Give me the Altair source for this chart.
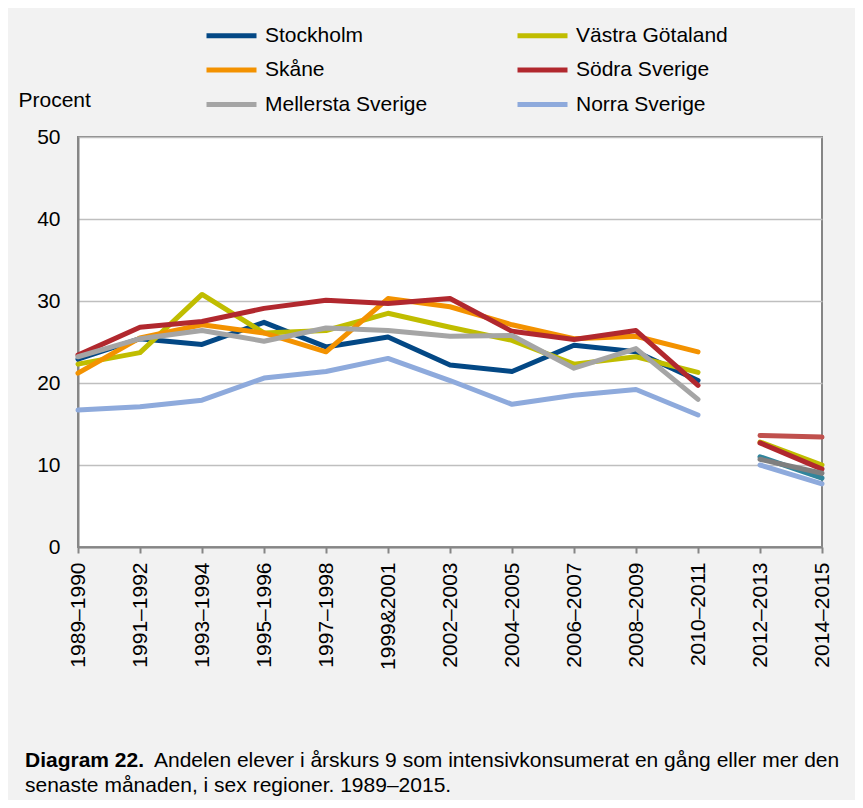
import altair as alt
import pandas as pd

categories = ["1989–1990", "1991–1992", "1993–1994", "1995–1996", "1997–1998",
              "1999&2001", "2002–2003", "2004–2005", "2006–2007", "2008–2009",
              "2010–2011", "2012–2013", "2014–2015"]
regions = ["Stockholm", "Västra Götaland", "Skåne", "Södra Sverige",
           "Mellersta Sverige", "Norra Sverige"]

stockholm = [22.9, 25.4, 24.7, 27.4, 24.4, 25.6, 22.2, 21.4, 24.6, 23.8, 20.3, 11.0, 8.4]
vastra_gotaland = [22.3, 23.7, 30.8, 26.1, 26.4, 28.5, 26.8, 25.2, 22.3, 23.2, 21.3, 12.8, 10.0]
skane = [21.2, 25.5, 27.1, 26.1, 23.8, 30.3, 29.3, 27.1, 25.4, 25.7, 23.8, 13.6, 13.4]
sodra_sverige = [23.4, 26.8, 27.5, 29.1, 30.1, 29.7, 30.3, 26.3, 25.3, 26.4, 19.7, 12.7, 9.5]
mellersta_sverige = [23.2, 25.4, 26.4, 25.1, 26.7, 26.4, 25.7, 25.8, 21.8, 24.2, 18.0, 10.7, 9.0]
norra_sverige = [16.7, 17.1, 17.9, 20.6, 21.4, 23.0, 20.3, 17.4, 18.5, 19.2, 16.1, 10.0, 7.7]

series = [stockholm, vastra_gotaland, skane, sodra_sverige, mellersta_sverige, norra_sverige]
colors_main = ["#034885", "#c0bd00", "#f39200", "#b1282e", "#a5a5a5", "#8eaadc"]
colors_late = ["#31859c", "#c0bd00", "#c0504d", "#b1282e", "#7f7f7f", "#8eaadc"]

# legend fills column by column: this order gives the reference's 2-column layout
legend_order = [0, 2, 4, 1, 3, 5]

caption_bold = "Diagram 22."
caption_line1 = "Andelen elever i årskurs 9 som intensivkonsumerat en gång eller mer den"
caption_line2 = "senaste månaden, i sex regioner. 1989–2015."

rows = []
for reg, vals in zip(regions, series):
    for i, (c, v) in enumerate(zip(categories, vals)):
        rows.append({"period": c, "region": reg, "value": v,
                     "seg": "early" if i <= 10 else "late"})
df = pd.DataFrame(rows)

dom = [regions[i] for i in legend_order]
rng_main = [colors_main[i] for i in legend_order]
rng_late = [colors_late[i] for i in legend_order]

FONT = "Liberation Sans"
FS = 21
LW = 5

x_enc = alt.X("period:N", sort=categories,
              scale=alt.Scale(type="point", padding=0, domain=categories),
              axis=alt.Axis(title=None, labelAngle=-90, labelFontSize=FS, labelFont=FONT,
                            labelColor="black", ticks=True, tickSize=6, tickColor="#868686",
                            tickWidth=2, domainColor="#868686", domainWidth=2,
                            labelPadding=9, grid=False))
y_enc = alt.Y("value:Q", scale=alt.Scale(domain=[0, 50], nice=False),
              axis=alt.Axis(values=[0, 10, 20, 30, 40, 50], title="Procent", titleAngle=0,
                            titleX=-60, titleY=-37, titleAlign="left", titleBaseline="middle",
                            titleFontSize=FS, titleFontWeight="normal", titleFont=FONT,
                            titleColor="black", labelFontSize=FS, labelFont=FONT,
                            labelColor="black", ticks=False, labelPadding=18,
                            gridColor="#bfbfbf", gridWidth=1.5, domainColor="#868686",
                            domainWidth=2))

base = alt.Chart(df)

main = base.transform_filter(alt.datum.seg == "early").mark_line(
    strokeWidth=LW, strokeCap="round", strokeJoin="round").encode(
    x=x_enc, y=y_enc,
    color=alt.Color("region:N",
                    scale=alt.Scale(domain=dom, range=rng_main),
                    legend=alt.Legend(title=None, orient="none", legendX=143, legendY=-112,
                                      columns=2, labelFontSize=FS, labelFont=FONT,
                                      labelColor="black", symbolSize=100,
                                      symbolStrokeWidth=5, symbolType="M-5,0H5",
                                      labelOffset=23, rowPadding=12.5, columnPadding=79,
                                      labelLimit=400, padding=0)))

late = base.transform_filter(alt.datum.seg == "late").mark_line(
    strokeWidth=LW, strokeCap="round", strokeJoin="round").encode(
    x=x_enc, y=y_enc,
    color=alt.Color("region:N",
                    scale=alt.Scale(domain=dom, range=rng_late), legend=None))

cap_b = alt.Chart(alt.Data(values=[{"t": caption_bold}])).mark_text(
    align="left", baseline="alphabetic", fontSize=FS, fontWeight="bold", font=FONT,
    color="black").encode(text="t:N", x=alt.value(-53), y=alt.value(630))
cap_1 = alt.Chart(alt.Data(values=[{"t": caption_line1}])).mark_text(
    align="left", baseline="alphabetic", fontSize=FS, font=FONT,
    color="black").encode(text="t:N", x=alt.value(76), y=alt.value(630))
cap_2 = alt.Chart(alt.Data(values=[{"t": caption_line2}])).mark_text(
    align="left", baseline="alphabetic", fontSize=FS, font=FONT,
    color="black").encode(text="t:N", x=alt.value(-53), y=alt.value(655))

chart = alt.layer(main, late, cap_b, cap_1, cap_2).resolve_scale(
    color="independent"
).properties(
    width=744, height=410,
    autosize=alt.AutoSizeParams(type="none"),
    padding={"left": 70, "top": 129, "right": 33, "bottom": 253},
).configure(
    background="#f2f2f2", font=FONT
).configure_view(
    fill="white", stroke="#868686", strokeWidth=2
)

chart.save("out.html", embed_options={"renderer": "svg", "actions": False})
